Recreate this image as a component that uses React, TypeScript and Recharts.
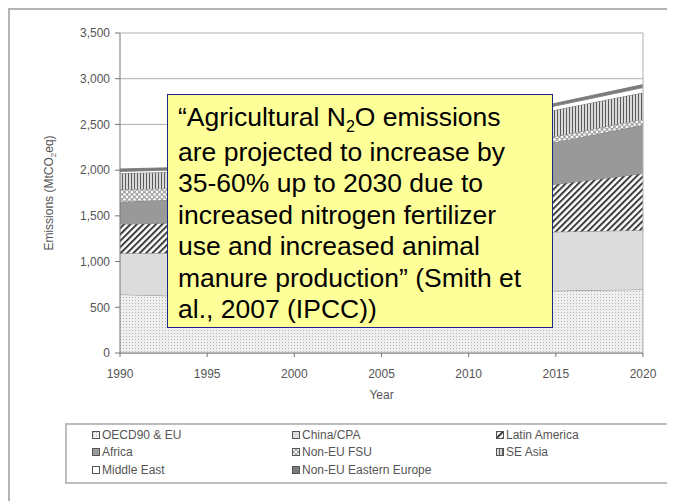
import {
  AreaChart,
  Area,
  XAxis,
  YAxis,
  CartesianGrid,
  ReferenceLine,
  Legend,
} from 'recharts';

const FONT = '"Liberation Sans", Arial, sans-serif';

const years = [1990, 1995, 2000, 2005, 2010, 2015, 2020];
const oecdEu = [640, 615, 615, 630, 655, 680, 695];
const chinaCpa = [450, 480, 540, 590, 625, 645, 648];
const latinAmerica = [320, 335, 370, 405, 455, 520, 620];
const africa = [245, 260, 300, 345, 400, 460, 530];
const nonEuFsu = [135, 115, 90, 75, 68, 65, 65];
const seAsia = [175, 185, 210, 240, 265, 290, 290];
const middleEast = [20, 22, 27, 32, 38, 43, 55];
const nonEuEasternEurope = [28, 25, 24, 26, 28, 30, 33];

const yearTicks = [1990, 1995, 2000, 2005, 2010, 2015, 2020];
const emissionTicks = [0, 500, 1000, 1500, 2000, 2500, 3000, 3500];

// stacking order, bottom to top
const series = [
  { key: 'oecd', name: 'OECD90 & EU', fill: 'url(#pOecd)' },
  { key: 'china', name: 'China/CPA', fill: '#dcdcdc' },
  { key: 'latin', name: 'Latin America', fill: 'url(#pLatin)' },
  { key: 'africa', name: 'Africa', fill: '#999999' },
  { key: 'fsu', name: 'Non-EU FSU', fill: 'url(#pFsu)' },
  { key: 'seAsia', name: 'SE Asia', fill: 'url(#pSeAsia)' },
  { key: 'middleEast', name: 'Middle East', fill: '#ffffff' },
  { key: 'eastEurope', name: 'Non-EU Eastern Europe', fill: '#7c7c7c' },
];

const rows = years.map((year, i) => ({
  year,
  oecd: oecdEu[i],
  china: chinaCpa[i],
  latin: latinAmerica[i],
  africa: africa[i],
  fsu: nonEuFsu[i],
  seAsia: seAsia[i],
  middleEast: middleEast[i],
  eastEurope: nonEuEasternEurope[i],
}));

const fmtThousands = (v: number) => v.toLocaleString('en-US');

function YTitle() {
  const x = 45;
  const y = 185;
  return (
    <text
      x={x}
      y={y}
      transform={`rotate(-90, ${x}, ${y})`}
      textAnchor="middle"
      fontSize={12}
      fill="#555"
      fontFamily={FONT}
    >
      Emissions (MtCO
      <tspan fontSize={8} dy={3}>2</tspan>
      <tspan dy={-3}>eq)</tspan>
    </text>
  );
}

function LegendBox() {
  return (
    <div
      style={{
        boxSizing: 'border-box',
        width: 605,
        height: 61,
        border: '2px solid #bdbdbd',
        paddingLeft: 25,
        paddingTop: 1,
        display: 'grid',
        gridTemplateColumns: '200px 204px 1fr',
        gridAutoRows: '17.5px',
        fontFamily: FONT,
        fontSize: 12,
        color: '#555',
      }}
    >
      {series.map((s) => (
        <div key={s.key} style={{ display: 'flex', alignItems: 'center' }}>
          <svg width={8} height={8} style={{ marginRight: 2 }}>
            <rect x={0.5} y={0.5} width={7} height={7} fill={s.fill} stroke="#555" />
          </svg>
          {s.name}
        </div>
      ))}
    </div>
  );
}

export default function App() {
  return (
    <div style={{ position: 'relative', width: 667, height: 493, fontFamily: FONT }}>
      <div
        style={{
          position: 'absolute',
          inset: 0,
          borderLeft: '2px solid #b4b4b4',
          borderTop: '2px solid #b4b4b4',
        }}
      />
      <div style={{ position: 'absolute', left: 0, top: 0 }}>
        <AreaChart
          width={667}
          height={485}
          data={rows}
          margin={{ top: 25, right: 32, bottom: 90, left: 0 }}
        >
          <defs>
            <pattern id="pOecd" width={3} height={3} patternUnits="userSpaceOnUse">
              <rect width={3} height={3} fill="#efefef" />
              <rect x={1} y={1} width={1} height={1} fill="#b4b4b4" />
            </pattern>
            <pattern
              id="pLatin"
              width={4.5}
              height={4.5}
              patternUnits="userSpaceOnUse"
              patternTransform="rotate(-45)"
            >
              <rect width={4.5} height={4.5} fill="#ffffff" />
              <rect width={4.5} height={2} fill="#3c3c3c" />
            </pattern>
            <pattern id="pFsu" width={5} height={5} patternUnits="userSpaceOnUse">
              <rect width={5} height={5} fill="#a8a8a8" />
              <circle cx={1.5} cy={1.5} r={1.3} fill="#ffffff" />
              <circle cx={4} cy={4} r={1.3} fill="#ffffff" />
            </pattern>
            <pattern id="pSeAsia" width={3} height={6} patternUnits="userSpaceOnUse">
              <rect width={3} height={6} fill="#dadada" />
              <rect width={1} height={6} fill="#5a5a5a" />
            </pattern>
          </defs>
          <CartesianGrid vertical={false} stroke="#b0b0b0" />
          <XAxis
            dataKey="year"
            type="number"
            domain={[1990, 2020]}
            ticks={yearTicks}
            height={50}
            tickSize={4}
            tickMargin={12}
            stroke="#777"
            tick={{ fontSize: 12, fill: '#555', fontFamily: FONT }}
            label={{ value: 'Year', position: 'insideBottom', offset: 4, fontSize: 12, fill: '#555' }}
          />
          <YAxis
            domain={[0, 3500]}
            ticks={emissionTicks}
            width={112}
            tickSize={5}
            tickMargin={5}
            stroke="#777"
            tickFormatter={fmtThousands}
            tick={{ fontSize: 12, fill: '#555', fontFamily: FONT }}
            label={<YTitle />}
          />
          <ReferenceLine x={2020} stroke="#b0b0b0" />
          {series.map((s) => (
            <Area
              key={s.key}
              type="linear"
              dataKey={s.key}
              name={s.name}
              stackId="1"
              stroke="#707070"
              strokeWidth={0.8}
              fill={s.fill}
              fillOpacity={1}
              isAnimationActive={false}
            />
          ))}
          <Legend
            layout="horizontal"
            verticalAlign="middle"
            align="center"
            width={605}
            wrapperStyle={{ left: 57, top: 415, width: 605, height: 61 }}
            content={() => <LegendBox />}
          />
        </AreaChart>
      </div>
      <div
        style={{
          position: 'absolute',
          left: 159,
          top: 86,
          width: 386,
          height: 234,
          boxSizing: 'border-box',
          background: '#ffff99',
          border: '1px solid #22228f',
          padding: '7px 0 0 10px',
          fontSize: 26.5,
          lineHeight: '31.5px',
          color: '#000',
          whiteSpace: 'nowrap',
        }}
      >
        <div>
          “Agricultural N
          <span style={{ fontSize: 16, position: 'relative', top: 6 }}>2</span>O emissions
        </div>
        <div>are projected to increase by</div>
        <div>35-60% up to 2030 due to</div>
        <div>increased nitrogen fertilizer</div>
        <div>use and increased animal</div>
        <div>manure production” (Smith et</div>
        <div>al., 2007 (IPCC))</div>
      </div>
    </div>
  );
}
